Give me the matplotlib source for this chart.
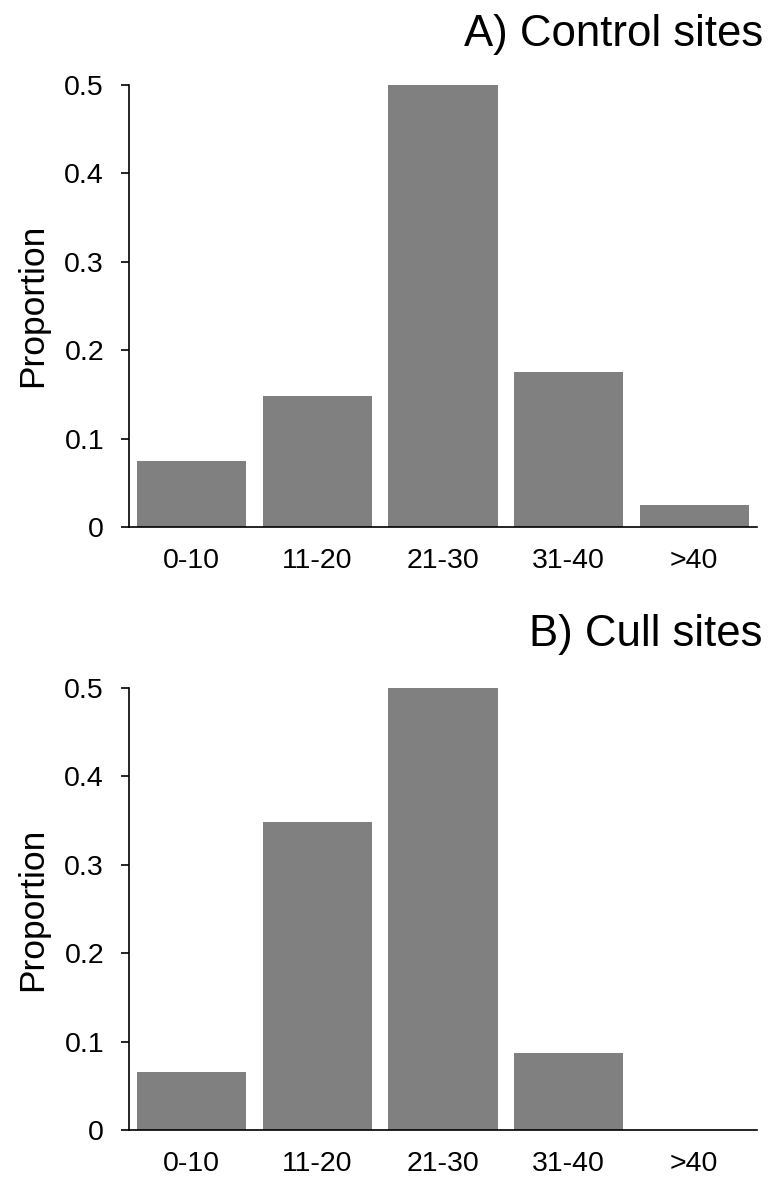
import numpy as np
import matplotlib
matplotlib.use('Agg')
import matplotlib.pyplot as plt

plt.rcParams['font.family'] = ['Liberation Sans', 'DejaVu Sans']

# DATA
age_classes = ['0-10', '11-20', '21-30', '31-40', '>40']
control_prop = [0.075, 0.148, 0.5, 0.175, 0.025]
cull_prop = [0.065, 0.348, 0.5, 0.087, 0.0]
panel_titles = ['A) Control sites', 'B) Cull sites']
yticks = [0, 0.1, 0.2, 0.3, 0.4, 0.5]
ytick_labels = ['0', '0.1', '0.2', '0.3', '0.4', '0.5']


def draw_panel(ax, values):

    x = np.arange(len(age_classes))

    ax.bar(x, values, width=0.87, color='#808080', edgecolor='none')

    ax.set_xlim(-0.5, len(age_classes) - 0.5)
    ax.set_ylim(0, 0.5)
    ax.set_xticks(x)
    ax.set_xticklabels(age_classes, fontsize=20.5)
    ax.set_yticks(yticks)
    ax.set_yticklabels(ytick_labels, fontsize=20.5)

    ax.tick_params(axis='x', length=0, pad=15)
    ax.tick_params(axis='y', direction='out', length=6, width=1.2, pad=12)

    ax.spines['top'].set_visible(False)
    ax.spines['right'].set_visible(False)
    ax.spines['left'].set_linewidth(1.2)
    ax.spines['bottom'].set_linewidth(1.2)

    ax.set_ylabel('Proportion', fontsize=25.5)
    ax.yaxis.set_label_coords(-0.127, 0.5)


def main():

    fig = plt.figure(figsize=(7.72, 11.78), dpi=100)

    ax1 = fig.add_axes([0.1671, 0.5526, 0.8135, 0.3756])
    ax2 = fig.add_axes([0.1671, 0.0408, 0.8135, 0.3752])

    draw_panel(ax1, control_prop)
    draw_panel(ax2, cull_prop)

    # panel titles sit a bit past the right end of the axes
    fig.text(0.9883, 0.961, panel_titles[0], ha='right', va='baseline', fontsize=31.5)
    fig.text(0.9883, 0.4516, panel_titles[1], ha='right', va='baseline', fontsize=31.5)

    plt.savefig('out.png', dpi=100)
    plt.close()


if __name__ == "__main__":
    main()
